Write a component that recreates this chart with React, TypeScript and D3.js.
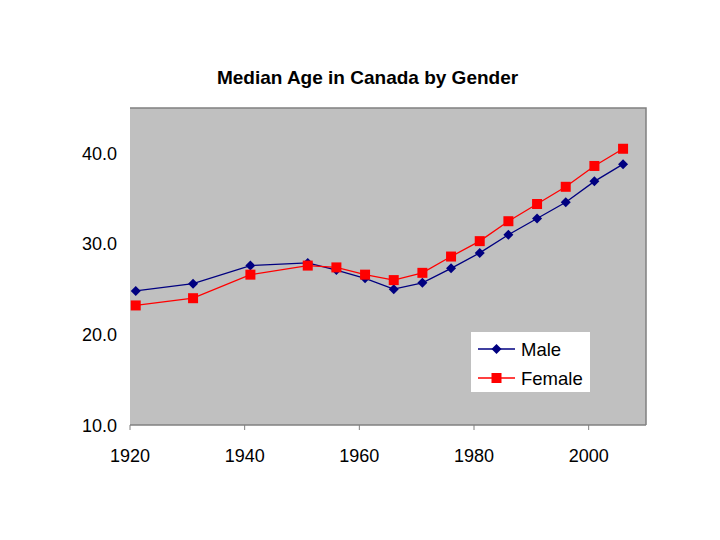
import React from "react";
import * as d3 from "d3";

const years = [1921, 1931, 1941, 1951, 1956, 1961, 1966, 1971, 1976, 1981, 1986, 1991, 1996, 2001, 2006];
const male = [24.8, 25.6, 27.6, 27.9, 27.1, 26.2, 25.0, 25.7, 27.3, 29.0, 31.0, 32.8, 34.6, 36.9, 38.8];
const female = [23.2, 24.0, 26.6, 27.6, 27.4, 26.6, 26.0, 26.8, 28.6, 30.3, 32.5, 34.4, 36.3, 38.6, 40.5];
const xTicks = [1920, 1940, 1960, 1980, 2000];
const yTicks = [10, 20, 30, 40];
const title = "Median Age in Canada by Gender";
const seriesNames = ["Male", "Female"];

const W = 720, H = 540;
const L = 130, R = 646, T = 108, B = 425;
const font = "'Liberation Sans', Arial, sans-serif";

export default function App() {
  const x = d3.scaleLinear().domain([1920, 2010]).range([L, R]);
  const y = d3.scaleLinear().domain([10, 45]).range([B, T]);
  const line = d3.line<number>().x((_, i) => x(years[i])).y((d) => y(d));
  const diamond = (cx: number, cy: number, r: number) =>
    `M${cx},${cy - r}L${cx + r},${cy}L${cx},${cy + r}L${cx - r},${cy}Z`;
  const maleColor = "#000080";
  const femColor = "#FF0000";
  return (
    <svg width={W} height={H} style={{ position: "absolute", left: 0, top: 0, background: "#fff" }}>
      <text x={367.5} y={84} textAnchor="middle" fontFamily={font} fontWeight="bold" fontSize={19} fill="#000">
        {title}
      </text>
      <rect x={L} y={T} width={R - L} height={B - T} fill="#C0C0C0" />
      <path d={`M${L},${T}H${R}V${B}`} fill="none" stroke="#808080" strokeWidth={1.5} />
      <line x1={L} x2={R} y1={B} y2={B} stroke="#808080" strokeWidth={1.5} />
      {xTicks.map((t) => (
        <g key={t}>
          <line x1={x(t)} x2={x(t)} y1={B} y2={B + 5} stroke="#808080" strokeWidth={1} />
          <text x={x(t)} y={462} textAnchor="middle" fontFamily={font} fontSize={18} fill="#000">
            {t}
          </text>
        </g>
      ))}
      {yTicks.map((t) => (
        <text key={t} x={117} y={y(t) + 6.5} textAnchor="end" fontFamily={font} fontSize={18} fill="#000">
          {t.toFixed(1)}
        </text>
      ))}
      <path d={line(male) || ""} fill="none" stroke={maleColor} strokeWidth={1.3} />
      <path d={line(female) || ""} fill="none" stroke={femColor} strokeWidth={1.3} />
      {male.map((v, i) => (
        <path key={"m" + i} d={diamond(x(years[i]), y(v), 5)} fill={maleColor} />
      ))}
      {female.map((v, i) => (
        <rect key={"f" + i} x={x(years[i]) - 5} y={y(v) - 5} width={10} height={10} fill={femColor} />
      ))}
      <rect x={471} y={332} width={119} height={60} fill="#fff" />
      {seriesNames.map((n, i) => {
        const cy = 349 + i * 29;
        const c = i === 0 ? maleColor : femColor;
        return (
          <g key={n}>
            <line x1={478} x2={515} y1={cy} y2={cy} stroke={c} strokeWidth={1.3} />
            {i === 0 ? (
              <path d={diamond(496.5, cy, 5)} fill={c} />
            ) : (
              <rect x={491.5} y={cy - 5} width={10} height={10} fill={c} />
            )}
            <text x={521} y={cy + 6.5} fontFamily={font} fontSize={18.5} fill="#000">
              {n}
            </text>
          </g>
        );
      })}
    </svg>
  );
}
